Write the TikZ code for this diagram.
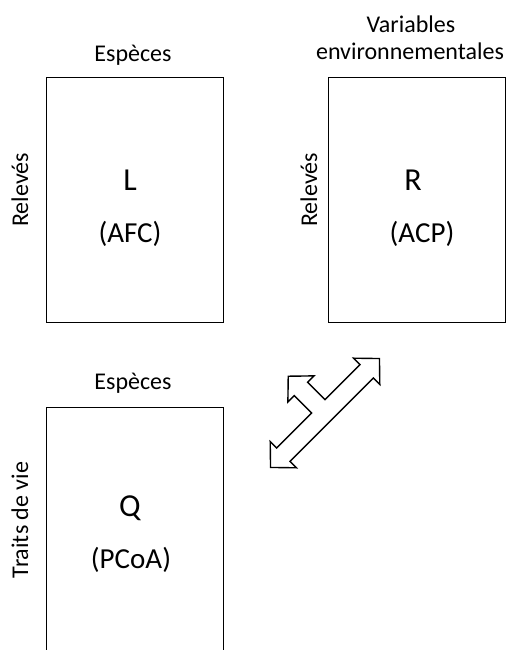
\documentclass[tikz,border=0pt]{standalone}
\usepackage{fontspec}
\setmainfont{Carlito}
\begin{document}
\begin{tikzpicture}[x=1pt,y=1pt,
  mat/.style={draw=black,line width=1.4pt,minimum width=177pt,minimum height=245pt,inner sep=0pt,anchor=north west},
  lab/.style={font=\fontsize{24}{27}\selectfont,anchor=base,inner sep=0pt},
  big/.style={font=\fontsize{32}{36}\selectfont,anchor=base,inner sep=0pt},
  sub/.style={font=\fontsize{29}{32}\selectfont,anchor=base,inner sep=0pt},
  side/.style={font=\fontsize{24}{27}\selectfont,anchor=base,rotate=90,inner sep=0pt},
  fat/.style={draw=black,line width=1.4pt,fill=white,line join=miter}]
\useasboundingbox (0,0) rectangle (515,650);
\clip (0,0) rectangle (515,650);
% boxes
\node[mat] (L) at (46,573) {};
\node[mat] (R) at (328,573) {};
\node[mat] (Q) at (46,243) {};
% top labels
\node[lab] (spL) at (133,588) {Espèces};
\node[lab] (varR1) at (411,617) {Variables};
\node[lab] (varR2) at (410,590) {environnementales};
\node[lab] (spQ) at (133,260) {Espèces};
% side labels
\node[side] (relL) at (28,460) {Relevés};
\node[side] (relR) at (317,460) {Relevés};
\node[side] (trQ) at (28,130) {Traits de vie};
% inner labels
\node[big] (nL) at (130,459) {L};
\node[sub] (aL) at (130,407) {(AFC)};
\node[big] (nR) at (413,459) {R};
\node[sub] (aR) at (422,407) {(ACP)};
\node[big] (nQ) at (130,133) {Q};
\node[sub] (aQ) at (131,81) {(PCoA)};
% three-headed arrow
\begin{scope}[shift={(325,237)},rotate=45]
\coordinate (ac) at (0,0);
\draw[fat] (77,0) -- (59,18.5) -- (59,9.5) -- (9.5,9.5) -- (9.5,34) -- (18.5,34) -- (0,52)
  -- (-18.5,34) -- (-9.5,34) -- (-9.5,9.5) -- (-59,9.5) -- (-59,18.5) -- (-77,0)
  -- (-59,-18.5) -- (-59,-9.5) -- (59,-9.5) -- (59,-18.5) -- cycle;
\end{scope}
\end{tikzpicture}
\end{document}
